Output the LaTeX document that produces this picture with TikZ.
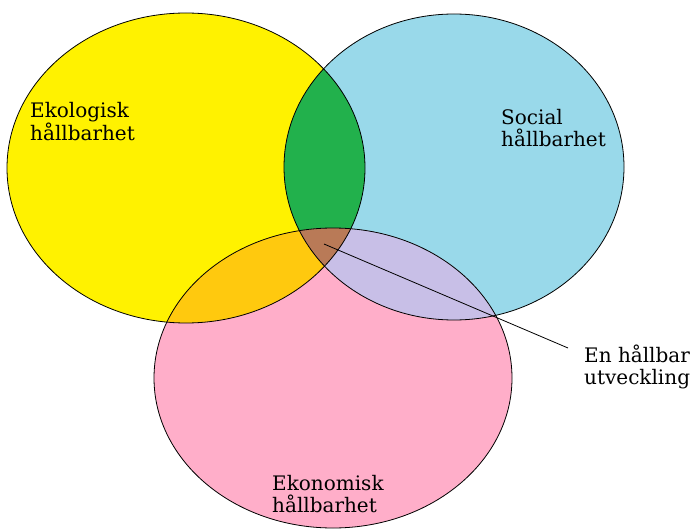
\documentclass[tikz,border=0pt]{standalone}
\usepackage{fontspec}
\setmainfont{DejaVu Serif}

\definecolor{ecolyellow}{RGB}{255,242,0}
\definecolor{socblue}{RGB}{153,217,234}
\definecolor{econpink}{RGB}{255,174,201}
\definecolor{ecolsoc}{RGB}{34,177,76}
\definecolor{ecolecon}{RGB}{255,201,14}
\definecolor{socecon}{RGB}{200,191,231}
\definecolor{allthree}{RGB}{185,122,87}

% the three sets
\newcommand\ecolshape{(186,168) ellipse [x radius=179, y radius=155]}
\newcommand\socshape{(454,167) ellipse [x radius=170, y radius=153]}
\newcommand\econshape{(333,378) ellipse [x radius=179, y radius=150]}

\begin{document}
\begin{tikzpicture}[
    x=1pt, y=-1pt,
    outline/.style={draw=black, line width=0.8pt},
    setlabel/.style={anchor=north west, inner sep=0pt, align=left,
        font=\fontsize{20}{22}\selectfont}
]
    \useasboundingbox (0,0) rectangle (692,529);

    % Set fills
    \fill[ecolyellow] \ecolshape;
    \fill[socblue] \socshape;
    \fill[econpink] \econshape;

    % Pairwise overlaps
    \begin{scope}
        \clip \ecolshape;
        \fill[ecolsoc] \socshape;
        \fill[ecolecon] \econshape;
    \end{scope}
    \begin{scope}
        \clip \socshape;
        \fill[socecon] \econshape;
    \end{scope}

    % Centre
    \begin{scope}
        \clip \ecolshape;
        \clip \socshape;
        \fill[allthree] \econshape;
    \end{scope}

    % Outlines
    \path[outline] \ecolshape;
    \path[outline] \socshape;
    \path[outline] \econshape;

    % Labels
    \node[setlabel] (ecol) at (30,102) {Ekologisk\\hållbarhet};
    \node[setlabel] (soc) at (501,109) {Social\\hållbarhet};
    \node[setlabel] (econ) at (272,475) {Ekonomisk\\hållbarhet};
    \node[setlabel] (label) at (584,345) {En hållbar\\utveckling};

    % Pointer to the centre
    \coordinate (core) at (324,244);
    \draw[line width=0.8pt] (core) -- ([shift={(-16,3)}]label.north west);

\end{tikzpicture}
\end{document}
